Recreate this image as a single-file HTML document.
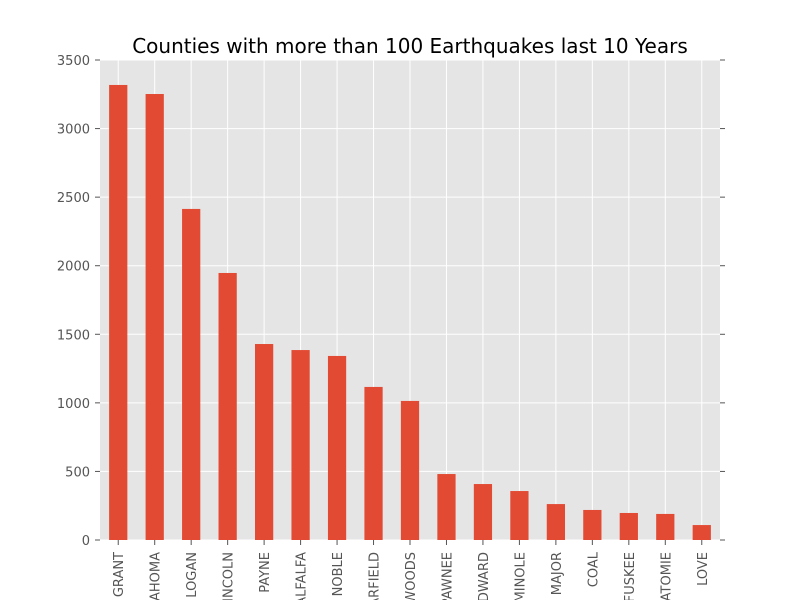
<!DOCTYPE html>
<html><head><meta charset="utf-8"><style>
html,body{margin:0;background:#fff;width:800px;height:600px;overflow:hidden;}
svg{display:block;font-family:"DejaVu Sans","Liberation Sans",sans-serif;}
</style></head><body>
<svg id="chart" width="800" height="600"></svg>
<script>
const categories=["GRANT","OKLAHOMA","LOGAN","LINCOLN","PAYNE","ALFALFA","NOBLE","GARFIELD","WOODS","PAWNEE","WOODWARD","SEMINOLE","MAJOR","COAL","OKFUSKEE","POTTAWATOMIE","LOVE"];
const counts=[3318,3252,2414,1947,1429,1385,1342,1116,1014,481,408,357,262,219,197,190,109];
const yTicks=[0,500,1000,1500,2000,2500,3000,3500];
const NS="http://www.w3.org/2000/svg";
const svg=document.getElementById('chart');
const L=100,R=720,T=60,B=540,yMax=3500;
const y=v=>B-(v/yMax)*(B-T);
const step=(R-L)/categories.length;
const x=i=>L+step*(i+0.5);
function mk(tag,attrs,parent){const e=document.createElementNS(NS,tag);for(const k in attrs)e.setAttribute(k,attrs[k]);(parent||svg).appendChild(e);return e;}
const bg=mk('rect',{x:L,y:T,width:R-L,height:B-T,fill:'#e5e5e5'});


yTicks.forEach(t=>{
  const g=mk('line',{x1:L,x2:R,y1:y(t),y2:y(t),stroke:'#fff','stroke-width':1});
  
  
  mk('line',{x1:L-5,x2:L,y1:y(t),y2:y(t),stroke:'#555'});
  mk('line',{x1:R,x2:R+5,y1:y(t),y2:y(t),stroke:'#555'});
  const lb=mk('text',{x:L-10,y:y(t)+5,'text-anchor':'end','font-size':13,fill:'#555'});
  lb.textContent=t;
  
  
});
categories.forEach((c,i)=>{
  const xc=x(i);
  const gl=mk('line',{x1:xc,x2:xc,y1:T,y2:B,stroke:'#fff'});
  
  
});
categories.forEach((c,i)=>{
  const xc=x(i),w=step*0.5;
  const b=mk('rect',{x:xc-w/2,y:y(counts[i]),width:w,height:B-y(counts[i]),fill:'#e24a33'});
  
  
  mk('line',{x1:xc,x2:xc,y1:B,y2:B+5,stroke:'#555'});
  const lb=mk('text',{transform:`translate(${xc+5},${B+12}) rotate(-90)`,'text-anchor':'end','font-size':13,fill:'#555'});
  lb.textContent=c;
  
  
});
const title=mk('text',{x:410,y:53,'text-anchor':'middle','font-size':20,fill:'#000'});
title.textContent='Counties with more than 100 Earthquakes last 10 Years';


</script>
</body></html>
